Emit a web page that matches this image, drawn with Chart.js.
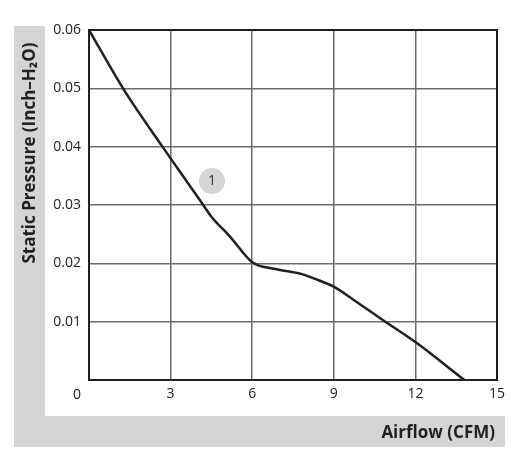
<!DOCTYPE html>
<html>
<head>
<meta charset="utf-8">
<script src="https://cdn.jsdelivr.net/npm/chart.js@4/dist/chart.umd.min.js"></script>
<style>
  body { margin: 0; background: #fff; }
  canvas { display: block; }
</style>
</head>
<body>
<canvas id="pq" width="511" height="461"></canvas>
<script>
// airflow (CFM) vs static pressure (inch-H2O)
const airflow = [0, 1.25, 2.7, 3.6, 4.2, 4.5, 5.2, 6.0, 6.9, 7.8, 8.6, 9.0, 9.8, 10.8, 12.0, 13.8];
const pressure = [0.06, 0.05, 0.04, 0.034, 0.03, 0.028, 0.0245, 0.0202, 0.019, 0.0182, 0.0168, 0.016, 0.0135, 0.0103, 0.0065, 0];
const xTicks = [0, 3, 6, 9, 12, 15];
const yTicks = [0, 0.01, 0.02, 0.03, 0.04, 0.05, 0.06];
const curveLabel = { x: 4.52, y: 0.0341, text: '1' };

const gray = '#d4d5d7';
const ink = '#231f20';
const tickFont = { family: '"Open Sans", sans-serif', size: 14 };

// gray L band, axis titles, frame and the curve number
const decor = {
  id: 'decor',
  beforeDraw(chart) {
    const c = chart.ctx;
    c.save();
    c.fillStyle = gray;
    c.fillRect(14, 26, 31, 421);
    c.fillRect(14, 416, 491, 31);
    c.restore();
  },
  afterDatasetsDraw(chart) {
    const c = chart.ctx, a = chart.chartArea;
    const xs = chart.scales.x, ys = chart.scales.y;
    c.save();
    c.strokeStyle = ink;
    c.lineWidth = 2;
    c.strokeRect(a.left, a.top, a.right - a.left, a.bottom - a.top);

    c.fillStyle = '#222';
    c.font = '14px "Open Sans", sans-serif';
    c.textAlign = 'center';
    c.textBaseline = 'middle';
    c.fillText('0', 77, 395);

    // number badge on the curve
    const px = xs.getPixelForValue(curveLabel.x), py = ys.getPixelForValue(curveLabel.y);
    c.fillStyle = gray;
    c.beginPath();
    c.arc(px, py, 13, 0, Math.PI * 2);
    c.fill();
    c.fillStyle = '#333';
    c.fillText(curveLabel.text, px, py);

    c.fillStyle = ink;
    c.font = 'bold 17px "Open Sans", sans-serif';
    c.textAlign = 'right';
    c.fillText('Airflow (CFM)', 495, 433);

    c.translate(30, 153);
    c.rotate(-Math.PI / 2);
    c.textAlign = 'center';
    c.fillText('Static Pressure (Inch\u2013H\u2082O)', 0, 0);
    c.restore();
  }
};

new Chart(document.getElementById('pq'), {
  type: 'scatter',
  data: {
    datasets: [{
      data: airflow.map((x, i) => ({ x: x, y: pressure[i] })),
      showLine: true,
      borderColor: ink,
      borderWidth: 2.5,
      pointRadius: 0,
      cubicInterpolationMode: 'monotone',
      fill: false
    }]
  },
  options: {
    responsive: false,
    animation: false,
    layout: { padding: { top: 30, right: 14, left: 0, bottom: 0 } },
    plugins: { legend: { display: false }, tooltip: { enabled: false } },
    scales: {
      x: {
        type: 'linear',
        min: 0, max: 15,
        afterFit(s) { s.height = 81; },
        afterBuildTicks(s) { s.ticks = xTicks.map(v => ({ value: v })); },
        ticks: {
          padding: 6,
          color: '#222',
          font: tickFont,
          callback: v => v === 0 ? '' : String(v)
        },
        grid: { color: '#6b6b6b', lineWidth: 1.5, drawTicks: false },
        border: { color: ink, width: 2 }
      },
      y: {
        min: 0, max: 0.06,
        afterFit(s) { s.width = 89; },
        afterBuildTicks(s) { s.ticks = yTicks.map(v => ({ value: v })); },
        ticks: {
          padding: 8,
          color: '#222',
          font: tickFont,
          callback: v => v === 0 ? '' : v.toFixed(2)
        },
        grid: { color: '#6b6b6b', lineWidth: 1.5, drawTicks: false },
        border: { color: ink, width: 2 }
      }
    }
  },
  plugins: [decor]
});
</script>
</body>
</html>
